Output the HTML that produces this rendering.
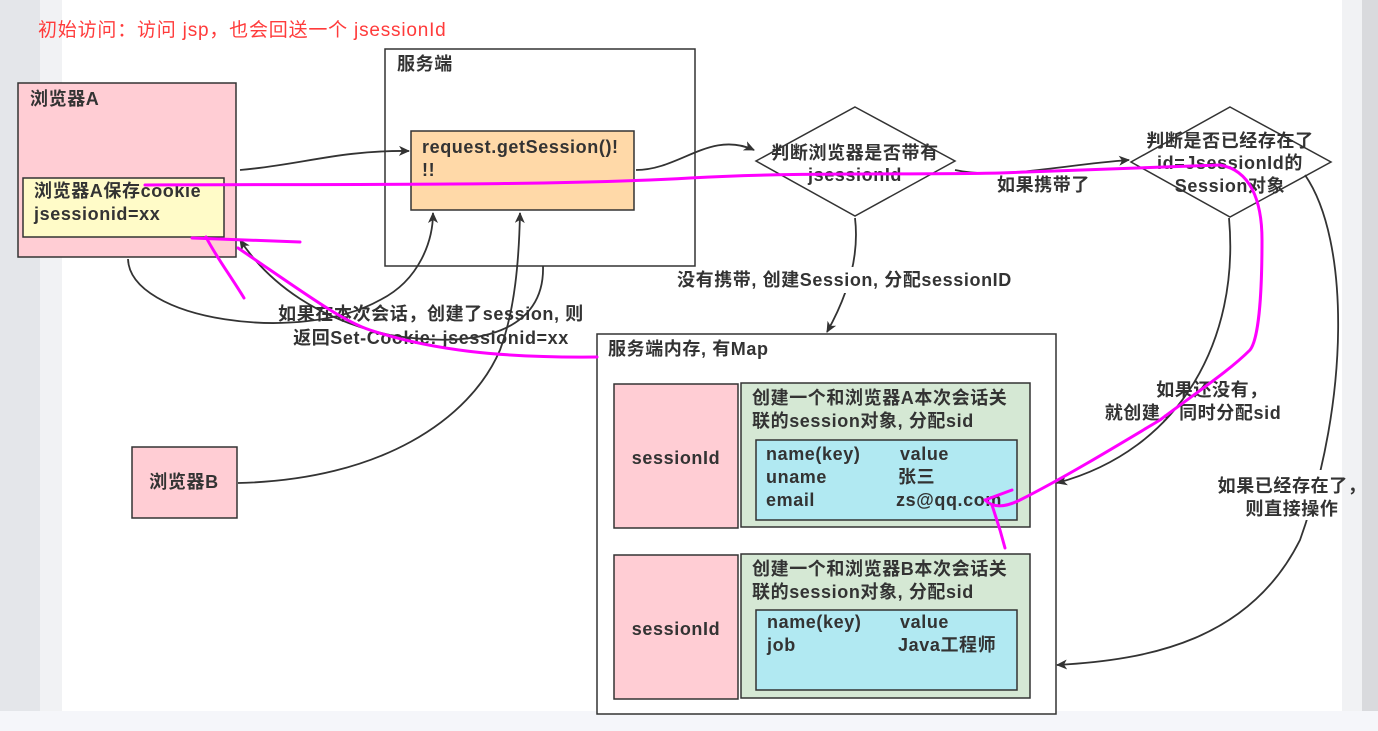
<!DOCTYPE html>
<html><head><meta charset="utf-8"><style>
html,body{margin:0;padding:0;width:1378px;height:731px;overflow:hidden;background:#fff}
svg text{font-family:"Liberation Sans","Noto Sans CJK SC",sans-serif;font-weight:bold;fill:#333;font-size:18px;letter-spacing:0.6px}
</style></head><body>
<svg width="1378" height="731" xmlns="http://www.w3.org/2000/svg">
<defs><marker id="a" markerWidth="12" markerHeight="10" refX="10" refY="5" orient="auto" markerUnits="userSpaceOnUse"><path d="M0,0 L11,5 L0,10 L3,5 z" fill="#333"/></marker></defs>
<rect x="0" y="0" width="40" height="731" fill="#e4e6ea"/>
<rect x="40" y="0" width="22" height="731" fill="#f1f2f4"/>
<rect x="1342" y="0" width="20" height="731" fill="#f1f2f4"/>
<rect x="1362" y="0" width="16" height="731" fill="#d9dadd"/>
<rect x="0" y="711" width="1378" height="20" fill="#f5f6fa"/>
<text x="38" y="36" style="fill:#ff3b3b;font-weight:normal;font-size:19px;letter-spacing:0.8px">初始访问：访问 jsp，也会回送一个 jsessionId</text>

<rect x="18" y="83" width="218" height="174" fill="#ffcdd4" stroke="#333" stroke-width="1.5"/>
<text x="30" y="105">浏览器A</text>
<rect x="23" y="178" width="201" height="59" fill="#fffbc8" stroke="#333" stroke-width="1.5"/>
<text x="34" y="197">浏览器A保存cookie</text>
<text x="34" y="220">jsessionid=xx</text>

<rect x="385" y="49" width="310" height="217" fill="#fff" stroke="#333" stroke-width="1.5"/>
<text x="397" y="70">服务端</text>
<rect x="411" y="131" width="223" height="79" fill="#ffd9a8" stroke="#333" stroke-width="1.5"/>
<text x="422" y="153">request.getSession()!</text>
<text x="422" y="176">!!</text>

<polygon points="855,107 955,161 855,216 756,161" fill="#fff" stroke="#333" stroke-width="1.5"/>
<text x="855" y="159" text-anchor="middle">判断浏览器是否带有</text>
<text x="855" y="181" text-anchor="middle">jsessionId</text>
<polygon points="1230,107 1331,162 1230,217 1131,162" fill="#fff" stroke="#333" stroke-width="1.5"/>
<text x="1230" y="147" text-anchor="middle">判断是否已经存在了</text>
<text x="1230" y="169" text-anchor="middle">id=JsessionId的</text>
<text x="1230" y="192" text-anchor="middle">Session对象</text>

<rect x="597" y="334" width="459" height="380" fill="#fff" stroke="#333" stroke-width="1.5"/>
<text x="608" y="355">服务端内存, 有Map</text>
<rect x="614" y="384" width="124" height="144" fill="#ffcdd4" stroke="#333" stroke-width="1.5"/>
<text x="676" y="464" text-anchor="middle">sessionId</text>
<rect x="741" y="383" width="289" height="144" fill="#d5e8d4" stroke="#333" stroke-width="1.5"/>
<text x="752" y="404">创建一个和浏览器A本次会话关</text>
<text x="752" y="427">联的session对象, 分配sid</text>
<rect x="756" y="440" width="261" height="80" fill="#b1e9f2" stroke="#333" stroke-width="1.5"/>
<text x="766" y="460">name(key)</text><text x="900" y="460">value</text>
<text x="766" y="483">uname</text><text x="898" y="483">张三</text>
<text x="766" y="506">email</text><text x="896" y="506">zs@qq.com</text>

<rect x="614" y="555" width="124" height="144" fill="#ffcdd4" stroke="#333" stroke-width="1.5"/>
<text x="676" y="635" text-anchor="middle">sessionId</text>
<rect x="741" y="554" width="289" height="144" fill="#d5e8d4" stroke="#333" stroke-width="1.5"/>
<text x="752" y="575">创建一个和浏览器B本次会话关</text>
<text x="752" y="598">联的session对象, 分配sid</text>
<rect x="756" y="610" width="261" height="80" fill="#b1e9f2" stroke="#333" stroke-width="1.5"/>
<text x="767" y="628">name(key)</text><text x="900" y="628">value</text>
<text x="767" y="651">job</text><text x="898" y="651">Java工程师</text>

<rect x="132" y="447" width="105" height="71" fill="#ffcdd4" stroke="#333" stroke-width="1.5"/>
<text x="184" y="488" text-anchor="middle">浏览器B</text>

<g fill="none" stroke="#333" stroke-width="1.8">
<path d="M240,170 C300,165 340,150 409,151" marker-end="url(#a)"/>
<path d="M128,259 C130,320 300,345 380,300 C420,280 433,240 433,213" marker-end="url(#a)"/>
<path d="M238,483 C380,480 470,420 500,350 C515,310 519,260 520,213" marker-end="url(#a)"/>
<path d="M543,266 C545,330 480,350 390,335 C320,320 270,285 240,240" marker-end="url(#a)"/>
<path d="M636,170 C680,170 710,130 754,150" marker-end="url(#a)"/>
<path d="M955,170 C1000,180 1060,165 1129,160" marker-end="url(#a)"/>
<path d="M855,218 C860,260 845,300 827,332" marker-end="url(#a)"/>
<path d="M1229,218 C1240,340 1180,450 1057,483" marker-end="url(#a)"/>
<path d="M1305,175 C1350,240 1350,400 1300,540 C1250,640 1150,660 1057,665" marker-end="url(#a)"/>
</g>
<g>
<rect x="990" y="172" width="104" height="24" fill="#fff"/>
<text x="997" y="191">如果携带了</text>
<rect x="672" y="267" width="345" height="26" fill="#fff"/>
<text x="677" y="286">没有携带, 创建Session, 分配sessionID</text>
<text x="431" y="320" text-anchor="middle">如果在本次会话，创建了session, 则</text>
<text x="431" y="344" text-anchor="middle">返回Set-Cookie: jsessionid=xx</text>
<text x="1212" y="396" text-anchor="middle">如果还没有，</text>
<text x="1193" y="419" text-anchor="middle">就创建，同时分配sid</text>
<rect x="1228" y="470" width="114" height="50" fill="#fff"/>
<text x="1292" y="492" text-anchor="middle">如果已经存在了，</text>
<text x="1292" y="515" text-anchor="middle">则直接操作</text>
</g>

<g fill="none" stroke="#f0f" stroke-width="3" stroke-linecap="round">
<path d="M145,185 C350,184 550,186 690,178 C800,172 900,175 1000,173 C1080,170 1150,167 1220,165 C1250,170 1262,200 1262,240 C1262,300 1258,340 1250,350 C1230,370 1200,390 1160,420 C1110,450 1060,480 1020,500 C1000,510 990,505 985,500"/>
<path d="M992,505 L1000,530 L1005,548"/>
<path d="M985,500 L1012,490"/>
<path d="M192,238 L300,242"/>
<path d="M206,237 C215,255 230,275 244,298"/>
<path d="M238,248 C300,290 340,320 370,330 C430,350 500,358 597,357"/>
</g>
</svg>
</body></html>
